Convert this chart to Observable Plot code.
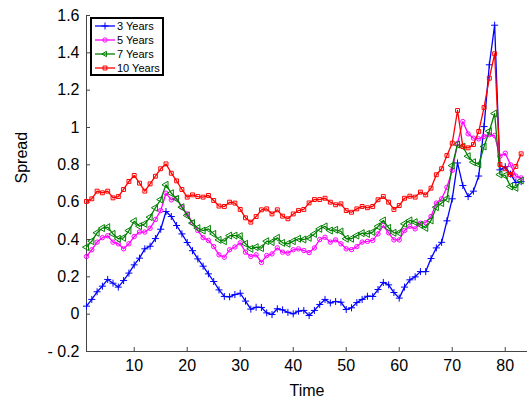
<!DOCTYPE html>
<html><head><meta charset="utf-8">
<script src="https://cdn.jsdelivr.net/npm/d3@7"></script>
<script src="https://cdn.jsdelivr.net/npm/@observablehq/plot@0.6"></script>
<style>
body{margin:0;background:#fff;font-family:"Liberation Sans",Arial,sans-serif}
#wrap{position:relative;width:527px;height:401px;overflow:hidden}
#legend{position:absolute;left:90px;top:17px;width:70px;height:55px;border:2px solid #000;background:#fff;font-size:11px;color:#000}
.row{position:absolute;left:3px;height:14px;display:flex;align-items:center;white-space:nowrap}
.row svg{margin-right:2px}
</style></head><body><div id="wrap"></div>
<script>
const time = d3.range(1, 84);
const years3 = [0.043,0.079,0.12,0.15,0.186,0.166,0.145,0.18,0.22,0.264,
0.30,0.35,0.364,0.405,0.455,0.55,0.523,0.475,0.43,0.384,
0.34,0.296,0.257,0.216,0.175,0.13,0.095,0.093,0.105,0.112,
0.07,0.027,0.037,0.036,0.007,-0.002,0.029,0.023,0.01,0.002,
0.016,0.02,-0.007,0.02,0.052,0.079,0.06,0.068,0.064,0.025,
0.034,0.062,0.079,0.096,0.095,0.132,0.17,0.157,0.116,0.086,
0.145,0.184,0.2,0.228,0.228,0.298,0.355,0.385,0.5,0.618,
0.81,0.689,0.63,0.659,0.74,1.005,1.336,1.548,0.773,0.79,
0.75,0.705,0.71];
const years5 = [0.309,0.345,0.386,0.41,0.42,0.386,0.377,0.35,0.377,0.416,
0.44,0.44,0.46,0.507,0.555,0.648,0.612,0.62,0.573,0.537,
0.49,0.448,0.41,0.395,0.362,0.318,0.305,0.345,0.36,0.382,
0.332,0.309,0.318,0.277,0.314,0.323,0.355,0.332,0.327,0.345,
0.35,0.341,0.33,0.355,0.4,0.412,0.386,0.398,0.377,0.35,
0.346,0.362,0.386,0.39,0.395,0.43,0.475,0.436,0.398,0.398,
0.448,0.471,0.457,0.487,0.49,0.523,0.595,0.618,0.68,0.77,
0.915,1.032,0.966,0.943,0.939,0.952,0.961,0.957,0.846,0.862,
0.80,0.74,0.73];
const years7 = [0.359,0.391,0.436,0.461,0.466,0.43,0.404,0.409,0.448,0.498,
0.471,0.484,0.52,0.57,0.614,0.693,0.648,0.618,0.573,0.529,
0.488,0.461,0.448,0.457,0.43,0.398,0.391,0.421,0.421,0.418,
0.377,0.35,0.359,0.354,0.391,0.386,0.409,0.382,0.377,0.391,
0.404,0.4,0.409,0.43,0.457,0.47,0.448,0.452,0.443,0.404,
0.404,0.421,0.434,0.43,0.44,0.47,0.502,0.462,0.436,0.436,
0.484,0.502,0.493,0.479,0.462,0.502,0.573,0.595,0.618,0.796,
0.909,0.898,0.846,0.814,0.802,0.898,0.98,1.075,0.748,0.743,
0.684,0.677,0.716];
const years10 = [0.604,0.618,0.659,0.65,0.659,0.623,0.63,0.668,0.711,0.743,
0.702,0.659,0.698,0.739,0.779,0.805,0.755,0.714,0.668,0.627,
0.639,0.63,0.627,0.636,0.609,0.579,0.577,0.6,0.595,0.561,
0.516,0.493,0.523,0.559,0.564,0.537,0.559,0.525,0.511,0.537,
0.555,0.561,0.596,0.614,0.614,0.621,0.6,0.586,0.591,0.555,
0.546,0.564,0.577,0.57,0.577,0.613,0.63,0.6,0.561,0.582,
0.621,0.632,0.627,0.654,0.639,0.675,0.747,0.779,0.85,0.916,
1.091,0.898,0.891,0.909,0.979,1.107,1.264,1.395,0.802,0.779,
0.748,0.791,0.859];
const seriesNames = ["3 Years","5 Years","7 Years","10 Years"];
const xTicks = [10,20,30,40,50,60,70,80];
const yTicks = [-0.2,0,0.2,0.4,0.6,0.8,1,1.2,1.4,1.6];

const W = 527, H = 401;
const mL = 86, mR = 0, mT = 15, mB = 50;
const innerW = W - mL - mR, innerH = H - mT - mB;

const series = [
  {name: seriesNames[0], values: years3, color: "#0000ff", symbol: "plus", d3sym: d3.symbolPlus, r: 2.4, rotate: 0},
  {name: seriesNames[1], values: years5, color: "#ff00ff", symbol: "circle", d3sym: d3.symbolCircle, r: 2.2, rotate: 0},
  {name: seriesNames[2], values: years7, color: "#008000", symbol: "triangle", d3sym: d3.symbolTriangle2, r: 2.6, rotate: -90},
  {name: seriesNames[3], values: years10, color: "#ff0000", symbol: "square", d3sym: d3.symbolSquare, r: 2.2, rotate: 0}
];

const fmt = d => d < 0 ? "- " + Math.abs(d) : String(d);

const marks = [];
for (const s of series) {
  const data = time.map((t, i) => ({t, v: s.values[i]}));
  marks.push(Plot.line(data, {x: "t", y: "v", stroke: s.color, strokeWidth: 1.3}));
  marks.push(Plot.dot(data, {x: "t", y: "v", stroke: s.color, symbol: s.symbol, r: s.r, rotate: s.rotate, strokeWidth: 1, fill: "none"}));
}

const chart = Plot.plot({
  width: W, height: H,
  marginLeft: mL, marginRight: mR, marginTop: mT, marginBottom: mB,
  style: {fontFamily: "'Liberation Sans', Arial, sans-serif", fontSize: "16px", background: "#fff", color: "#000"},
  x: {domain: [1, 84.2]},
  y: {domain: [-0.2, 1.6]},
  marks: [
    Plot.axisX({ticks: xTicks, tickSize: 0, tickPadding: 8, fontSize: 16, label: null, tickFormat: d => String(d)}),
    Plot.axisY({ticks: yTicks, tickSize: 0, tickPadding: 7, fontSize: 16, label: null, tickFormat: fmt}),
    Plot.tickX(xTicks, {x: d => d, insetTop: innerH - 4, stroke: "#444"}),
    Plot.tickY(yTicks, {y: d => d, insetRight: innerW - 4, stroke: "#444"}),
    Plot.ruleX([1], {stroke: "#444"}),
    Plot.ruleY([-0.2], {stroke: "#444"}),
    ...marks,
    Plot.text(["Time"], {frameAnchor: "bottom", dy: 44, fontSize: 16, fill: "#000"}),
    Plot.text(["Spread"], {frameAnchor: "left", dx: -65, rotate: -90, fontSize: 16, fill: "#000"})
  ]
});

const wrap = document.getElementById("wrap");
wrap.appendChild(chart);

const legend = document.createElement("div");
legend.id = "legend";
series.forEach((s, k) => {
  const row = document.createElement("div");
  row.className = "row";
  row.style.top = (k * 14) + "px";
  const sz = Math.PI * s.r * s.r;
  const path = d3.symbol(s.d3sym, sz)();
  row.innerHTML = `<svg width="20" height="14"><line x1="0" x2="20" y1="7" y2="7" stroke="${s.color}" stroke-width="1.3"/><path d="${path}" transform="translate(10,7) rotate(${s.rotate})" fill="none" stroke="${s.color}" stroke-width="1"/></svg><span>${s.name}</span>`;
  legend.appendChild(row);
});
wrap.appendChild(legend);
</script>
</body></html>
